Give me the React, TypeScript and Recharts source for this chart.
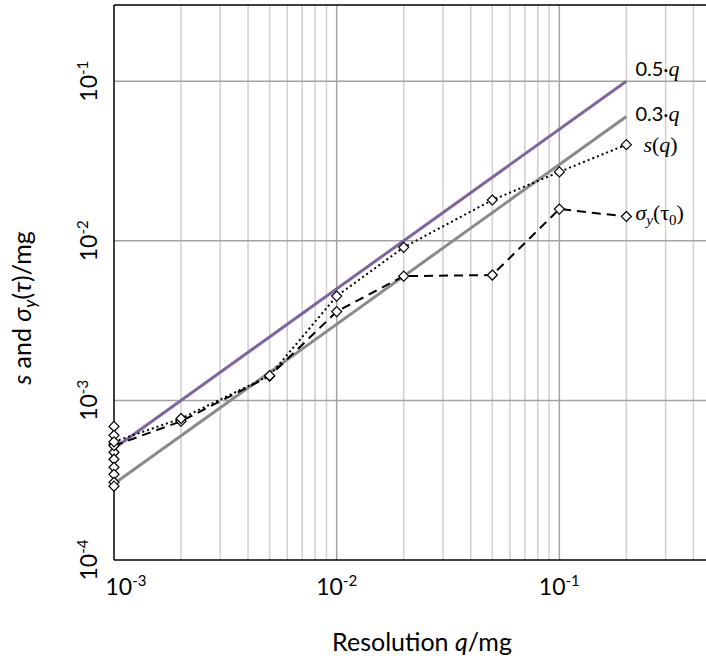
import React from 'react';
import { ComposedChart, Line, XAxis, YAxis, CartesianGrid, LabelList, Label } from 'recharts';

// Resolution steps q (mg) at which the balance was characterised
const resolutions = [0.001, 0.002, 0.005, 0.01, 0.02, 0.05, 0.1, 0.2];
// Standard deviation s(q) (mg)
const sValues = [0.00055, 0.00077, 0.00143, 0.0045, 0.0091, 0.018, 0.027, 0.04];
// Allan deviation sigma_y(tau_0) (mg)
const sigmaValues = [0.00052, 0.00074, 0.00142, 0.0036, 0.006, 0.0061, 0.0158, 0.0142];
// Repeated results at the finest resolution
const finestResolution = 0.001;
const finestRepeats = [0.000687, 0.000604, 0.000531, 0.000473, 0.000428, 0.000381, 0.000344, 0.000307, 0.00029];
// Reference lines k·q drawn over the resolution range
const boundRange = [0.001, 0.2];
const upperFactor = 0.5;
const lowerFactor = 0.3;

const xDomain = [0.001, 0.5];
const yDomain = [0.0001, 0.3];
const xTicks = [0.001, 0.01, 0.1];
const yTicks = [0.0001, 0.001, 0.01, 0.1];
const xMajorGrid = [0.01, 0.1];
const xMinorGrid = [
  0.002, 0.003, 0.004, 0.005, 0.006, 0.007, 0.008, 0.009,
  0.02, 0.03, 0.04, 0.05, 0.06, 0.07, 0.08, 0.09,
  0.2, 0.3, 0.4,
];
const yMajorGrid = [0.001, 0.01, 0.1];

const sData = resolutions.map((q, i) => ({ q, v: sValues[i] }));
const sigmaData = resolutions.map((q, i) => ({ q, v: sigmaValues[i] }));
const repeatData = finestRepeats.map((v) => ({ q: finestResolution, v }));
const upperData = boundRange.map((q) => ({ q, v: upperFactor * q }));
const lowerData = boundRange.map((q) => ({ q, v: lowerFactor * q }));

const SANS = 'Lato, "Open Sans", sans-serif';
const SERIF = '"Liberation Serif", "DejaVu Serif", serif';

const diamond = (r: number, sw: number) => (props: any) => {
  const { cx, cy, index } = props;
  if (cx == null || cy == null) return <g key={`d-${index}`} />;
  return (
    <path
      key={`d-${index}`}
      d={`M${cx},${cy - r}L${cx + r},${cy}L${cx},${cy + r}L${cx - r},${cy}Z`}
      fill="#ffffff"
      stroke="#000000"
      strokeWidth={sw}
    />
  );
};

const exponentOf = (v: number) => Math.round(Math.log10(v));

const XTick = (props: any) => {
  const { x, payload, index } = props;
  const shift = index === 0 ? 12 : 0;
  return (
    <text x={x + shift} y={595} textAnchor="middle" fontFamily={SANS} fontSize={23} fill="#000">
      10
      <tspan dy={-9} fontSize={15}>{`${exponentOf(payload.value)}`}</tspan>
    </text>
  );
};

const YTick = (props: any) => {
  const { y, payload } = props;
  const bx = 97;
  return (
    <text
      x={bx}
      y={y}
      transform={`rotate(-90, ${bx}, ${y})`}
      textAnchor="middle"
      fontFamily={SANS}
      fontSize={23}
      fill="#000"
    >
      10
      <tspan dy={-9} fontSize={15}>{`${exponentOf(payload.value)}`}</tspan>
    </text>
  );
};

const endLabel = (lastIndex: number, render: (x: number, y: number) => React.ReactNode) => (props: any) => {
  const { x, y, index } = props;
  if (index !== lastIndex || x == null) return null;
  return <g>{render(x, y)}</g>;
};

const factorLabel = (factor: number, dy: number) => (x: number, y: number) => (
  <text x={x + 9} y={y + dy} fontSize={20} fill="#000">
    <tspan fontFamily={SANS}>{`${factor}·`}</tspan>
    <tspan fontFamily={SERIF} fontStyle="italic" fontSize={22}>q</tspan>
  </text>
);

const sLabel = (x: number, y: number) => (
  <text x={x + 17} y={y + 7} fontFamily={SERIF} fontSize={22} fill="#000">
    <tspan fontStyle="italic">s</tspan>
    <tspan>(</tspan>
    <tspan fontStyle="italic">q</tspan>
    <tspan>)</tspan>
  </text>
);

const sigmaLabel = (x: number, y: number) => (
  <text x={x + 9} y={y + 4} fontFamily={SERIF} fontSize={22} fill="#000">
    <tspan fontStyle="italic">σ</tspan>
    <tspan fontStyle="italic" fontSize={15} dy={5}>y</tspan>
    <tspan dy={-5}>(τ</tspan>
    <tspan fontSize={15} dy={5}>0</tspan>
    <tspan dy={-5}>)</tspan>
  </text>
);

const XTitle = () => (
  <text x={422} y={651} textAnchor="middle" fontFamily={SANS} fontSize={25} fill="#000">
    Resolution <tspan fontStyle="italic">q</tspan>/mg
  </text>
);

const YTitle = () => (
  <text
    x={31}
    y={308}
    transform="rotate(-90, 31, 308)"
    textAnchor="middle"
    fontFamily={SANS}
    fontSize={25}
    fill="#000"
  >
    <tspan fontStyle="italic">s</tspan>
    <tspan>  and </tspan>
    <tspan fontStyle="italic">σ</tspan>
    <tspan fontStyle="italic" fontSize={17} dy={5}>y</tspan>
    <tspan dy={-5}>(</tspan>
    <tspan fontStyle="italic">τ</tspan>
    <tspan>)/mg</tspan>
  </text>
);

export default function App() {
  const last = resolutions.length - 1;
  return (
    <div
      style={{
        position: 'fixed',
        left: 0,
        top: 0,
        width: 706,
        height: 663,
        overflow: 'hidden',
        background: '#ffffff',
      }}
    >
      <ComposedChart width={730} height={663} margin={{ top: 5, right: 15, bottom: 0, left: 14 }}>
        <CartesianGrid
          horizontal={false}
          verticalValues={xMinorGrid}
          stroke="#cfcfcf"
          strokeWidth={1.5}
        />
        <CartesianGrid
          horizontalValues={yMajorGrid}
          verticalValues={xMajorGrid}
          stroke="#a3a3a3"
          strokeWidth={1.5}
        />
        <XAxis
          dataKey="q"
          type="number"
          scale="log"
          domain={xDomain}
          ticks={xTicks}
          tick={<XTick />}
          tickLine={false}
          axisLine={{ stroke: '#000', strokeWidth: 1.5 }}
          height={103}
          interval={0}
        >
          <Label content={<XTitle />} />
        </XAxis>
        <YAxis
          type="number"
          scale="log"
          domain={yDomain}
          ticks={yTicks}
          tick={<YTick />}
          tickLine={false}
          axisLine={{ stroke: '#000', strokeWidth: 1.5 }}
          width={100}
          interval={0}
        >
          <Label content={<YTitle />} />
        </YAxis>
        <Line
          data={repeatData}
          dataKey="v"
          stroke="none"
          dot={diamond(5, 1.2)}
          isAnimationActive={false}
          legendType="none"
        />
        <Line
          data={lowerData}
          dataKey="v"
          stroke="#8a8a8a"
          strokeWidth={3}
          dot={false}
          isAnimationActive={false}
        >
          <LabelList dataKey="v" content={endLabel(boundRange.length - 1, factorLabel(lowerFactor, 4))} />
        </Line>
        <Line
          data={upperData}
          dataKey="v"
          stroke="#8064a2"
          strokeWidth={3}
          dot={false}
          isAnimationActive={false}
        >
          <LabelList dataKey="v" content={endLabel(boundRange.length - 1, factorLabel(upperFactor, -5))} />
        </Line>
        <Line
          data={sigmaData}
          dataKey="v"
          stroke="#000"
          strokeWidth={2}
          strokeDasharray="9 6"
          dot={diamond(5, 1.2)}
          isAnimationActive={false}
        >
          <LabelList dataKey="v" content={endLabel(last, sigmaLabel)} />
        </Line>
        <Line
          data={sData}
          dataKey="v"
          stroke="#000"
          strokeWidth={2}
          strokeDasharray="2 3"
          dot={diamond(5, 1.2)}
          isAnimationActive={false}
        >
          <LabelList dataKey="v" content={endLabel(last, sLabel)} />
        </Line>
        <Line
          data={[{ q: xDomain[0], v: yDomain[1] }, { q: xDomain[1], v: yDomain[1] }]}
          dataKey="v"
          stroke="#000"
          strokeWidth={1.5}
          dot={false}
          isAnimationActive={false}
        />
      </ComposedChart>
    </div>
  );
}
